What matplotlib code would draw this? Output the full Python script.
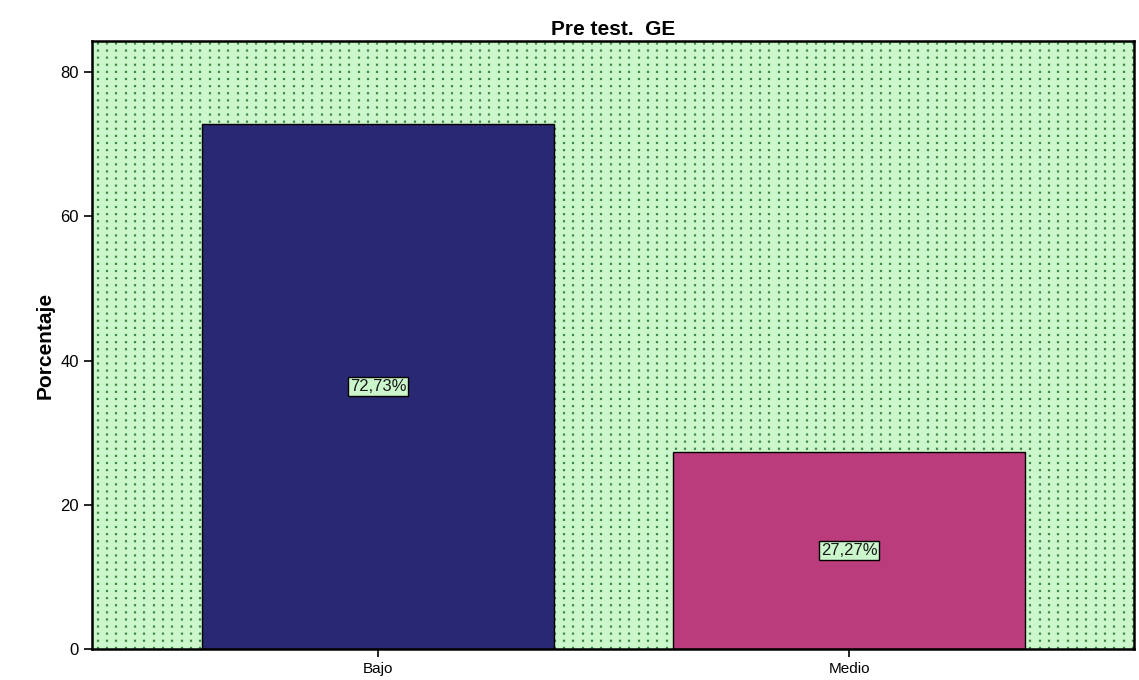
import numpy as np
import matplotlib.pyplot as plt

categories = ['Bajo', 'Medio']
porcentajes = [72.73, 27.27]
bar_colors = ['#282873', '#ba3c7c']
yticks = [0, 20, 40, 60, 80]

plt.rcParams['font.family'] = ['Liberation Sans', 'DejaVu Sans']

fig = plt.figure(figsize=(11.39, 6.80), dpi=100)
ax = fig.add_axes([92 / 1139, 1 - 649 / 680, 1042 / 1139, 608 / 680])

ax.set_facecolor('#ccf7cc')
ax.set_xlim(-0.607, 1.605)
ax.set_ylim(0, 84.3)

# vertical dotted background pattern
for xv in np.arange(-0.607 + 0.012, 1.605, 0.0198):
    ax.axvline(xv, color='#3f8a47', linestyle=(0, (1.0, 2.2)), linewidth=1.6, zorder=0)

x = np.arange(len(categories))
bars = ax.bar(x, porcentajes, width=0.747, color=bar_colors,
              edgecolor='black', linewidth=1.0, zorder=2)

for xi, v in zip(x, porcentajes):
    ax.text(xi, v / 2, f'{v:.2f}%'.replace('.', ','), ha='center', va='center',
            fontsize=12, color='#1a1a1a', zorder=3,
            bbox=dict(boxstyle='square,pad=0.12', facecolor='#ccf7cc',
                      edgecolor='black', linewidth=1.0))

ax.set_xticks(x)
ax.set_xticklabels(categories, fontsize=11)
ax.set_yticks(yticks)
ax.set_yticklabels([str(t) for t in yticks], fontsize=12)
ax.tick_params(direction='out', length=6, width=1.2, colors='black')

for s in ax.spines.values():
    s.set_linewidth(1.8)
    s.set_color('black')

ax.set_ylabel('Porcentaje', fontsize=15, fontweight='bold',
              family=['Liberation Sans Narrow', 'Liberation Sans', 'DejaVu Sans'])
ax.set_title('Pre test.  GE', fontsize=15, fontweight='bold', pad=4)

fig.savefig('out.png', dpi=100)
